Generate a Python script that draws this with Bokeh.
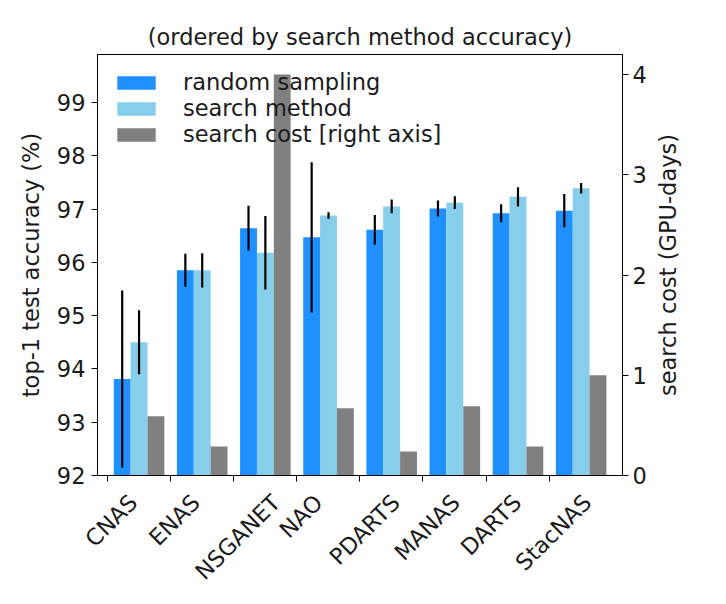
import math
from bokeh.plotting import figure
from bokeh.layouts import row
from bokeh.models import Range1d, LinearAxis, FixedTicker, ColumnDataSource
from bokeh.core.properties import value
from bokeh.embed import file_html
from bokeh.resources import INLINE

# ---- data ----
names = ["CNAS", "ENAS", "NSGANET", "NAO", "PDARTS", "MANAS", "DARTS", "StacNAS"]
rand_acc = [93.81, 95.85, 96.64, 96.47, 96.61, 97.01, 96.92, 96.97]
rand_err = [1.66, 0.31, 0.42, 1.41, 0.28, 0.15, 0.17, 0.31]
search_acc = [94.50, 95.85, 96.18, 96.88, 97.05, 97.12, 97.23, 97.39]
search_err = [0.60, 0.32, 0.69, 0.06, 0.13, 0.12, 0.18, 0.10]
cost = [0.59, 0.29, 4.0, 0.67, 0.24, 0.69, 0.29, 1.0]
left_ticks = [92, 93, 94, 95, 96, 97, 98, 99]
right_ticks = [0, 1, 2, 3, 4]

FONT = "DejaVu Sans"
FSN = 22.5
FS = f"{FSN}px"
TXT = "#1a1a1a"

W = 0.267
idx = list(range(len(names)))
xr = [i + 0.238 for i in idx]
xs = [i + 0.505 for i in idx]
xc = [i + 0.772 for i in idx]

x_start, x_end = -0.153, 8.16
y_start, y_end = 92, 99.9
frame_w, frame_h = 525, 421
B_TOP, B_BOT = 54, 125

p = figure(frame_width=frame_w, frame_height=frame_h,
           x_range=Range1d(x_start, x_end), y_range=Range1d(y_start, y_end),
           output_backend="svg", toolbar_location=None,
           min_border_left=97, min_border_right=34, min_border_top=B_TOP, min_border_bottom=B_BOT,
           x_axis_location=None, y_axis_location=None)
p.extra_y_ranges = {"cost": Range1d(0, 4.2)}

p.title.text = "(ordered by search method accuracy)"
p.title.text_font = FONT
p.title.text_font_size = FS
p.title.text_font_style = "normal"
p.title.text_color = TXT
p.title.align = "center"
p.title.standoff = 9

p.xgrid.visible = False
p.ygrid.visible = False
p.outline_line_color = "black"
p.outline_line_width = 1
p.outline_line_alpha = 1
p.background_fill_color = "white"
p.border_fill_color = "white"

src = ColumnDataSource(dict(xr=xr, xs=xs, xc=xc, ra=rand_acc, sa=search_acc, c=cost,
                            rlo=[a - e for a, e in zip(rand_acc, rand_err)],
                            rhi=[a + e for a, e in zip(rand_acc, rand_err)],
                            slo=[a - e for a, e in zip(search_acc, search_err)],
                            shi=[a + e for a, e in zip(search_acc, search_err)]))

p.vbar(x="xr", top="ra", bottom=92, width=W, source=src, fill_color="#1E90FF",
       line_color=None, legend_label="random sampling")
p.vbar(x="xs", top="sa", bottom=92, width=W, source=src, fill_color="#87CEEB",
       line_color=None, legend_label="search method")
p.vbar(x="xc", top="c", bottom=0, width=W, source=src, fill_color="#808080",
       line_color=None, y_range_name="cost", legend_label="search cost [right axis]")
p.segment(x0="xr", y0="rlo", x1="xr", y1="rhi", source=src, line_color="black", line_width=2.2)
p.segment(x0="xs", y0="slo", x1="xs", y1="shi", source=src, line_color="black", line_width=2.2)

def style_axis(ax):
    ax.axis_line_color = "black"
    ax.major_tick_line_color = "black"
    ax.major_tick_out = 6
    ax.major_tick_in = 0
    ax.minor_tick_line_color = None
    ax.major_label_text_font = FONT
    ax.major_label_text_font_size = FS
    ax.major_label_text_color = TXT
    ax.axis_label_text_font = FONT
    ax.axis_label_text_font_size = FS
    ax.axis_label_text_font_style = "normal"
    ax.axis_label_text_color = TXT

yl = LinearAxis(ticker=FixedTicker(ticks=left_ticks), axis_label="top-1 test accuracy (%)")
style_axis(yl)
yl.major_label_standoff = 6
yl.axis_label_standoff = 10
p.add_layout(yl, "left")

yrt = LinearAxis(y_range_name="cost", ticker=FixedTicker(ticks=right_ticks))
style_axis(yrt)
yrt.major_label_standoff = 4
p.add_layout(yrt, "right")

# x axis: tick marks at the category positions (minor ticks), labels rotated 45 deg
# and centred on each tick (major ticks, hidden marks)
cw = {"A": 0.684, "C": 0.698, "D": 0.770, "E": 0.632, "G": 0.775, "M": 0.863, "N": 0.748,
      "O": 0.787, "P": 0.603, "R": 0.695, "S": 0.635, "T": 0.611, "t": 0.392, "a": 0.613, "c": 0.550}
px_per_unit = frame_w / (x_end - x_start)
lab_pos = []
for i, n in zip(idx, names):
    L = sum(cw[ch] for ch in n) * FSN
    lab_pos.append(i + (0.354 * L + 4) / px_per_unit)
xl = LinearAxis(ticker=FixedTicker(ticks=lab_pos, minor_ticks=idx))
style_axis(xl)
xl.major_tick_line_color = None
xl.major_tick_out = 0
xl.minor_tick_line_color = "black"
xl.minor_tick_out = 6
xl.minor_tick_in = 0
xl.major_label_orientation = math.pi / 4
xl.major_label_standoff = 17
xl.major_label_overrides = {pos: n for pos, n in zip(lab_pos, names)}
p.add_layout(xl, "below")

lg = p.legend[0]
lg.location = "top_left"
lg.margin = 15
lg.padding = 10
lg.spacing = 0
lg.glyph_width = 48
lg.glyph_height = 17
lg.label_standoff = 23
lg.label_text_font = FONT
lg.label_text_font_size = FS
lg.label_text_color = TXT
lg.border_line_color = None
lg.background_fill_alpha = 0

# right-axis title (reads bottom to top, as in the reference) in a narrow side panel
side = figure(frame_width=40, frame_height=frame_h, x_range=Range1d(0, 1), y_range=p.y_range,
              output_backend="svg", toolbar_location=None,
              min_border_left=0, min_border_right=0, min_border_top=B_TOP, min_border_bottom=B_BOT,
              x_axis_location=None, y_axis_location=None)
side.xgrid.visible = False
side.ygrid.visible = False
side.outline_line_color = None
side.background_fill_color = "white"
side.border_fill_color = "white"
side.text(x=[0.28], y=[(y_start + y_end) / 2], text=["search cost (GPU-days)"], angle=math.pi / 2,
          text_align="center", text_baseline="middle", text_font=value(FONT),
          text_font_size=FS, text_color=TXT)

layout = row(p, side, spacing=0)
open("out.html", "w").write(file_html(layout, INLINE))
